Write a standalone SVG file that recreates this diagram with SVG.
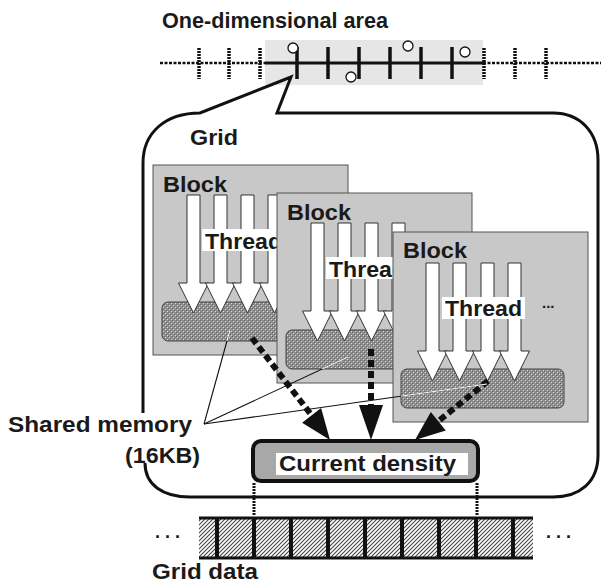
<svg xmlns="http://www.w3.org/2000/svg" xmlns:xlink="http://www.w3.org/1999/xlink" width="609" height="584" viewBox="0 0 609 584">
<style>
.lbl{font-family:"Liberation Sans",Arial,sans-serif;font-weight:bold;fill:#1a1a1a}
.blk{fill:#c8c8c8;stroke:#555;stroke-width:1}
.mem{fill:url(#mem);stroke:#444;stroke-width:1}
.thr{fill:#fff;stroke:#333;stroke-width:1}
.tbox{fill:#fff}
.dash{stroke:#111;stroke-width:6;stroke-dasharray:7 4;fill:none}
.head{fill:#111}
.thin{stroke:#111;stroke-width:1.1;fill:none}
.thinw{stroke:#fff;stroke-width:1.1;fill:none}
.vdash{stroke:#111;stroke-width:3;stroke-dasharray:2 1;fill:none}
.tick{stroke:#111;stroke-width:3.5}
.dtick{stroke:#111;stroke-width:3.5;stroke-dasharray:2 1}
.pt{fill:#fff;stroke:#111;stroke-width:1.3}
</style>
<defs>
<pattern id="mem" width="4" height="4" patternUnits="userSpaceOnUse">
<rect width="4" height="4" fill="#8e8e8e"/>
<rect x="0" y="0" width="1" height="1" fill="#dcdcdc"/>
<rect x="2" y="2" width="1" height="1" fill="#dcdcdc"/>
<rect x="1" y="1" width="1" height="1" fill="#666"/>
<rect x="3" y="3" width="1" height="1" fill="#666"/>
</pattern>
<pattern id="hatch" width="4" height="4" patternUnits="userSpaceOnUse">
<rect width="4" height="4" fill="#fff"/>
<path d="M-1,1 L1,-1 M0,4 L4,0 M3,5 L5,3" stroke="#444" stroke-width="1.1"/>
</pattern>
<polygon id="arrowT" class="thr" points="0,0 13,0 13,88 21.5,88 6.5,118 -8.5,88 0,88"/>
<clipPath id="memclip">
<rect x="162" y="302" width="115" height="39" rx="6"/>
<rect x="286" y="330" width="107" height="39" rx="6"/>
<rect x="401" y="369" width="163" height="39" rx="6"/>
</clipPath>
</defs>
<rect width="609" height="584" fill="#fff"/>

<g id="area">
<text class="lbl" x="162" y="28" font-size="21.5" textLength="226" lengthAdjust="spacingAndGlyphs">One-dimensional area</text>
<rect x="265" y="40" width="218" height="45" fill="#e6e6e6"/>
<line x1="160" y1="63" x2="265" y2="63" stroke="#111" stroke-width="2.5" stroke-dasharray="3 1.5"/>
<line x1="483" y1="63" x2="601" y2="63" stroke="#111" stroke-width="2.5" stroke-dasharray="3 1.5"/>
<line x1="265" y1="63" x2="483" y2="63" stroke="#111" stroke-width="3"/>
<g class="tick">
<line x1="297" y1="47" x2="297" y2="79"/><line x1="328" y1="47" x2="328" y2="79"/>
<line x1="359" y1="47" x2="359" y2="79"/><line x1="390" y1="47" x2="390" y2="79"/>
<line x1="421" y1="47" x2="421" y2="79"/><line x1="452" y1="47" x2="452" y2="79"/>
</g>
<g class="dtick">
<line x1="199" y1="48" x2="199" y2="79"/><line x1="229" y1="48" x2="229" y2="79"/>
<line x1="260" y1="48" x2="260" y2="79"/><line x1="484" y1="48" x2="484" y2="79"/>
<line x1="515" y1="48" x2="515" y2="79"/><line x1="546" y1="48" x2="546" y2="79"/>
</g>
<circle class="pt" cx="293" cy="48" r="5"/>
<circle class="pt" cx="351" cy="77" r="5"/>
<circle class="pt" cx="408" cy="46" r="5"/>
<circle class="pt" cx="465" cy="52" r="5"/>
</g>

<g id="grid">
<path d="M143,413 L143,163 C143,133 165,113 200,113 L291,77 L277,113 L553,113 C580,113 598,132 598,160 L598,455 C598,482 580,497 553,497 L190,497 C163,497 145,485 145,463" fill="none" stroke="#111" stroke-width="3" stroke-linejoin="miter"/>
<text class="lbl" x="190" y="145" font-size="22" textLength="48" lengthAdjust="spacingAndGlyphs">Grid</text>
</g>

<g id="block1" transform="translate(153,165)">
<rect class="blk" x="0" y="0" width="195" height="190"/>
<rect class="mem" x="9" y="137" width="163" height="39" rx="6"/>
<use xlink:href="#arrowT" x="34" y="30"/>
<use xlink:href="#arrowT" x="61" y="30"/>
<use xlink:href="#arrowT" x="88" y="30"/>
<use xlink:href="#arrowT" x="115" y="30"/>
<rect class="tbox" x="49" y="64" width="83" height="22"/>
<text class="lbl" x="52" y="84" font-size="22" textLength="77" lengthAdjust="spacingAndGlyphs">Thread</text>
<text class="lbl" x="10" y="27" font-size="22" textLength="64" lengthAdjust="spacingAndGlyphs">Block</text>
</g>

<g id="block2" transform="translate(277,193)">
<rect class="blk" x="0" y="0" width="195" height="190"/>
<rect class="mem" x="9" y="137" width="163" height="39" rx="6"/>
<use xlink:href="#arrowT" x="34" y="30"/>
<use xlink:href="#arrowT" x="61" y="30"/>
<use xlink:href="#arrowT" x="88" y="30"/>
<use xlink:href="#arrowT" x="115" y="30"/>
<rect class="tbox" x="49" y="64" width="83" height="22"/>
<text class="lbl" x="52" y="84" font-size="22" textLength="77" lengthAdjust="spacingAndGlyphs">Thread</text>
<text class="lbl" x="10" y="27" font-size="22" textLength="64" lengthAdjust="spacingAndGlyphs">Block</text>
</g>

<g id="block3" transform="translate(393,232)">
<rect class="blk" x="0" y="0" width="195" height="190"/>
<rect class="mem" x="8" y="137" width="163" height="39" rx="6"/>
<use xlink:href="#arrowT" x="33" y="31"/>
<use xlink:href="#arrowT" x="60" y="31"/>
<use xlink:href="#arrowT" x="88" y="31"/>
<use xlink:href="#arrowT" x="115" y="31"/>
<rect class="tbox" x="49" y="65" width="83" height="22"/>
<text class="lbl" x="52" y="84" font-size="22" textLength="77" lengthAdjust="spacingAndGlyphs">Thread</text>
<text class="lbl" x="10" y="26" font-size="22" textLength="64" lengthAdjust="spacingAndGlyphs">Block</text>
<text class="lbl" x="149" y="76" font-size="15">...</text>
</g>

<g id="current-density">
<rect x="253" y="441" width="225" height="40" rx="8" fill="#a8a8a8" stroke="#111" stroke-width="4"/>
<rect x="276" y="453" width="192" height="22" fill="#fff"/>
<text class="lbl" x="279" y="471" font-size="22" textLength="177" lengthAdjust="spacingAndGlyphs">Current density</text>
</g>

<g id="grid-data">
<rect x="199" y="518" width="334" height="40" fill="url(#hatch)"/>
<line x1="199" y1="518" x2="533" y2="518" stroke="#111" stroke-width="3"/>
<line x1="199" y1="558" x2="533" y2="558" stroke="#111" stroke-width="3"/>
<g stroke="#111" stroke-width="4">
<line x1="217" y1="518" x2="217" y2="558"/><line x1="254" y1="518" x2="254" y2="558"/>
<line x1="291" y1="518" x2="291" y2="558"/><line x1="328" y1="518" x2="328" y2="558"/>
<line x1="365" y1="518" x2="365" y2="558"/><line x1="402" y1="518" x2="402" y2="558"/>
<line x1="439" y1="518" x2="439" y2="558"/><line x1="476" y1="518" x2="476" y2="558"/>
<line x1="513" y1="518" x2="513" y2="558"/>
</g>
<text class="lbl" x="155" y="538" font-size="18">. . .</text>
<text class="lbl" x="546" y="538" font-size="18">. . .</text>
<text class="lbl" x="152" y="579" font-size="22" textLength="106" lengthAdjust="spacingAndGlyphs">Grid data</text>
</g>

<g id="shared-memory-label">
<text class="lbl" x="8" y="432" font-size="22" textLength="184" lengthAdjust="spacingAndGlyphs">Shared memory</text>
<text class="lbl" x="125" y="463" font-size="22" textLength="75" lengthAdjust="spacingAndGlyphs">(16KB)</text>
</g>

<g id="connectors">
<line class="dash" x1="252" y1="338" x2="311.6" y2="415.3"/>
<polygon class="head" points="321.1,407.9 302.1,422.7 330,440"/>
<line class="dash" x1="371" y1="349" x2="371" y2="406"/>
<polygon class="head" points="359,405 383,405 371,440"/>
<line class="dash" x1="488" y1="381" x2="438.3" y2="421.2"/>
<polygon class="head" points="445.8,430.5 430.8,411.9 415,440"/>
<line class="thin" x1="204" y1="424" x2="230" y2="330"/>
<line class="thin" x1="204" y1="424" x2="348" y2="357"/>
<line class="thin" x1="204" y1="424" x2="487" y2="384"/>
<g clip-path="url(#memclip)">
<line class="thinw" x1="204" y1="424" x2="230" y2="330"/>
<line class="thinw" x1="204" y1="424" x2="348" y2="357"/>
<line class="thinw" x1="204" y1="424" x2="487" y2="384"/>
</g>
<line class="vdash" x1="254" y1="483" x2="254" y2="516"/>
<line class="vdash" x1="477" y1="483" x2="477" y2="516"/>
</g>
</svg>
